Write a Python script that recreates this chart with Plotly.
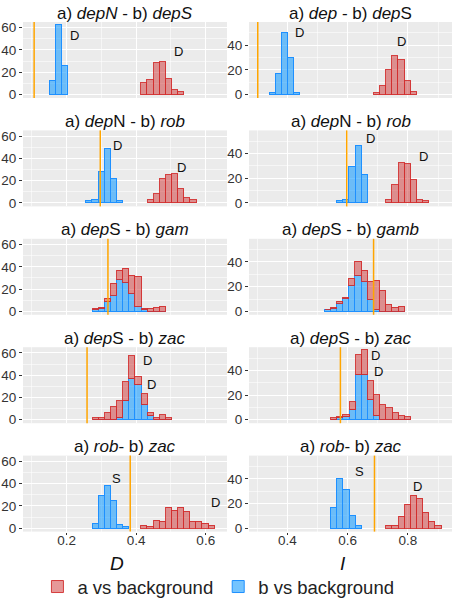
import plotly.graph_objects as go

# ---------------- data ----------------
titles_left = ["a) <i>depN</i> - b) <i>depS</i>", "a) <i>dep</i>N - b) <i>rob</i>",
               "a) <i>dep</i>S - b) <i>gam</i>", "a) <i>dep</i>S - b) <i>zac</i>",
               "a) <i>rob</i>- b) <i>zac</i>"]
titles_right = ["a) <i>dep</i> - b) <i>dep</i>S", "a) <i>dep</i>N - b) <i>rob</i>",
                "a) <i>dep</i>S - b) <i>gamb</i>", "a) <i>dep</i>S - b) <i>zac</i>",
                "a) <i>rob</i>- b) <i>zac</i>"]

binwidth_left = 0.01756
binwidth_right = 0.0204

# left column (D)
b_start_left = [0.152, 0.257, 0.275, 0.275, 0.275]
b_counts_left = [
    [12, 62, 26],
    [1, 2, 27, 48, 21, 1],
    [1, 2, 9, 14, 28, 26, 16, 4, 1, 0, 0, 0],
    [0, 0, 0, 0, 1, 17, 36, 31, 13, 3, 0, 0, 0],
    [4, 29, 38, 25, 3, 1],
]
a_start_left = [0.415, 0.433, 0.275, 0.275, 0.415]
a_counts_left = [
    [10, 13, 28, 29, 14, 4, 2],
    [2, 8, 21, 25, 26, 12, 4, 2],
    [1, 1, 2, 11, 8, 12, 16, 27, 1, 2, 3, 4],
    [1, 1, 6, 11, 16, 17, 21, 7, 10, 3, 1, 4, 1],
    [2, 1, 7, 6, 18, 16, 18, 15, 6, 6, 4, 2],
]
threshold_left = [0.107, 0.297, 0.319, 0.259, 0.383]

# right column (I)
b_start_right = [0.341, 0.565, 0.524, 0.545, 0.545]
b_counts_right = [
    [1, 17, 50, 30, 1],
    [1, 2, 29, 46, 22],
    [1, 2, 6, 10, 21, 29, 24, 9, 1, 0, 0, 0, 0],
    [0, 1, 2, 8, 36, 36, 16, 3, 0, 0, 0, 0, 0],
    [17, 40, 31, 10, 2],
]
a_start_right = [0.687, 0.728, 0.524, 0.545, 0.728]
a_counts_right = [
    [1, 7, 20, 31, 28, 11, 2],
    [2, 14, 32, 31, 18, 2, 1],
    [0, 1, 2, 1, 5, 11, 9, 15, 24, 17, 5, 3, 4],
    [1, 1, 2, 6, 16, 20, 15, 17, 12, 9, 5, 3, 2],
    [2, 2, 9, 19, 26, 24, 13, 5, 2],
]
threshold_right = [0.302, 0.597, 0.686, 0.576, 0.689]

labels_left = [
    [("D", 0.223, 53), ("D", 0.521, 39)],
    [("D", 0.347, 52), ("D", 0.531, 32)],
    [],
    [("D", 0.433, 53), ("D", 0.443, 32)],
    [("S", 0.343, 45), ("D", 0.627, 23)],
]
labels_right = [
    [("D", 0.439, 50), ("D", 0.778, 43)],
    [("D", 0.676, 52), ("D", 0.853, 38)],
    [],
    [("D", 0.694, 52), ("D", 0.703, 39)],
    [("S", 0.639, 46), ("D", 0.833, 34)],
]

series_names = ["a vs background", "b vs background"]
axis_titles = ["<i>D</i>", "<i>I</i>"]

# ---------------- styling / layout ----------------
W, H = 457, 600
FONT = "Liberation Sans, Arial, Helvetica, sans-serif"
RED_FILL = "rgba(205,50,50,0.5)"
RED_LINE = "rgba(210,45,45,0.9)"
BLUE_FILL = "rgba(30,160,255,0.62)"
BLUE_LINE = "#1E90FF"
ORANGE = "#FFA500"
PANEL_BG = "#EBEBEB"

col_px = [(23, 227), (249, 452)]
row_top0, row_pitch, panel_h = 22, 108.4, 76

fig = go.Figure()
layout = dict(
    width=W, height=H, margin=dict(l=0, r=0, t=0, b=0, autoexpand=False),
    paper_bgcolor="white", plot_bgcolor=PANEL_BG,
    barmode="stack", bargap=0,
    font=dict(family=FONT, color="#333333"),
    showlegend=True,
    legend=dict(orientation="h", x=0.478, xanchor="center", y=1 - 587 / H, yanchor="middle",
                font=dict(size=18.5, color="#222222"), traceorder="normal",
                itemwidth=30, bgcolor="rgba(0,0,0,0)"),
)
annotations = []
shapes = []

columns = [
    dict(bw=binwidth_left, bs=b_start_left, bc=b_counts_left, as_=a_start_left, ac=a_counts_left,
         thr=threshold_left, lab=labels_left, titles=titles_left,
         xrange=[0.075, 0.661], yrange=[-3.1, 65.1], xt=[0.2, 0.4, 0.6], xminor0=0.1,
         yt=[0, 20, 40, 60], xtitle=axis_titles[0]),
    dict(bw=binwidth_right, bs=b_start_right, bc=b_counts_right, as_=a_start_right, ac=a_counts_right,
         thr=threshold_right, lab=labels_right, titles=titles_right,
         xrange=[0.273, 0.946], yrange=[-2.8, 58.8], xt=[0.4, 0.6, 0.8], xminor0=0.3,
         yt=[0, 20, 40], xtitle=axis_titles[1]),
]

for r in range(5):
    top = row_top0 + r * row_pitch
    bot = top + panel_h
    for c, col in enumerate(columns):
        idx = r * 2 + c + 1
        xa = "x" if idx == 1 else f"x{idx}"
        ya = "y" if idx == 1 else f"y{idx}"
        bw = col["bw"]
        bx = [col["bs"][r] + (k + 0.5) * bw for k in range(len(col["bc"][r]))]
        fig.add_trace(go.Bar(
            x=bx, y=col["bc"][r], width=bw, xaxis=xa, yaxis=ya,
            name=series_names[1], legendgroup="b", legendrank=2,
            showlegend=(r == 0 and c == 0),
            marker=dict(color=BLUE_FILL, line=dict(color=BLUE_LINE, width=1)),
            hoverinfo="skip"))
        ax = [col["as_"][r] + (k + 0.5) * bw for k in range(len(col["ac"][r]))]
        fig.add_trace(go.Bar(
            x=ax, y=col["ac"][r], width=bw, xaxis=xa, yaxis=ya,
            name=series_names[0], legendgroup="a", legendrank=1,
            showlegend=(r == 0 and c == 0),
            marker=dict(color=RED_FILL, line=dict(color=RED_LINE, width=1)),
            hoverinfo="skip"))

        x0, x1 = col_px[c]
        bottom_row = (r == 4)
        layout[f"xaxis{'' if idx == 1 else idx}"] = dict(
            domain=[x0 / W, x1 / W], anchor=ya, range=col["xrange"],
            tickvals=col["xt"], ticktext=[f"{v:.1f}" for v in col["xt"]],
            showticklabels=bottom_row, ticks="outside" if bottom_row else "",
            ticklen=2.5, tickcolor="#333333", tickwidth=1, ticklabelstandoff=-6,
            tickfont=dict(size=13.5, color="#333333"),
            showgrid=True, gridcolor="white", gridwidth=1, zeroline=False, showline=False,
            minor=dict(dtick=0.2, tick0=col["xminor0"], showgrid=True,
                       gridcolor="rgba(255,255,255,0.55)", gridwidth=0.6),
            fixedrange=True,
        )
        layout[f"yaxis{'' if idx == 1 else idx}"] = dict(
            domain=[1 - bot / H, 1 - top / H], anchor=xa, range=col["yrange"],
            tickvals=col["yt"], ticks="outside", ticklen=3, tickcolor="#333333", tickwidth=1,
            tickfont=dict(size=13.5, color="#333333"),
            showgrid=True, gridcolor="white", gridwidth=1, zeroline=False, showline=False,
            minor=dict(dtick=20, tick0=10, showgrid=True,
                       gridcolor="rgba(255,255,255,0.55)", gridwidth=0.6),
            fixedrange=True,
        )
        shapes.append(dict(type="line", xref=xa, yref=f"{ya} domain",
                           x0=col["thr"][r], x1=col["thr"][r], y0=0, y1=1,
                           line=dict(color=ORANGE, width=1.5), layer="above"))
        annotations.append(dict(text=col["titles"][r], xref="paper", yref="paper",
                                x=(x0 + x1) / 2 / W, y=1 - (top - 9) / H,
                                xanchor="center", yanchor="middle", showarrow=False,
                                font=dict(size=17, color="#111111")))
        for (t, lx, ly) in col["lab"][r]:
            annotations.append(dict(text=t, xref=xa, yref=ya, x=lx, y=ly,
                                    showarrow=False, font=dict(size=13, color="#111111")))
        if bottom_row:
            annotations.append(dict(text=col["xtitle"], xref="paper", yref="paper",
                                    x=(x0 + x1) / 2 / W - 8 / W, y=1 - 563 / H,
                                    xanchor="center", yanchor="middle", showarrow=False,
                                    font=dict(size=19, color="#111111")))

layout["annotations"] = annotations
layout["shapes"] = shapes
fig.update_layout(**layout)
fig.write_html("out.html", config={"displayModeBar": False},
               post_script="document.body.style.margin='0';document.body.style.overflow='hidden';")
